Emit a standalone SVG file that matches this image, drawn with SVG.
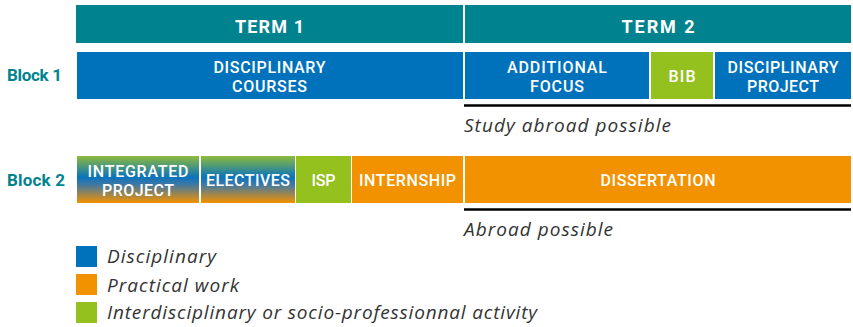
<svg xmlns="http://www.w3.org/2000/svg" width="853" height="327" viewBox="0 0 853 327">
<defs>
<linearGradient id="mix" x1="0" y1="0" x2="0" y2="1">
<stop offset="0" stop-color="#8dbb3c"/>
<stop offset="0.45" stop-color="#0a73bb"/>
<stop offset="0.6" stop-color="#3d78a6"/>
<stop offset="1" stop-color="#f39200"/>
</linearGradient>
<style>
.term{fill:#00828f}
.blue{fill:#0072bc}
.green{fill:#95c11f}
.orange{fill:#f39200}
.hd{font-family:Roboto,"Open Sans","Liberation Sans",sans-serif;font-weight:700;font-size:18px;fill:#fff;text-anchor:middle}
.nl{font-family:Roboto,"Open Sans","Liberation Sans",sans-serif;font-weight:500;font-size:16px;fill:#fff;text-anchor:middle}
.bl{font-family:Roboto,"Open Sans","Liberation Sans",sans-serif;font-weight:700;font-size:17px;fill:#00838f}
.it{font-family:"Open Sans","Liberation Sans",sans-serif;font-style:italic;font-size:19px;fill:#333}
.rule{stroke:#000;stroke-width:2.5}
</style>
</defs>
<rect width="853" height="327" fill="#fff"/>
<g id="term1"><rect class="term" x="76" y="5" width="387" height="38"/><text class="hd" x="269.5" y="33" textLength="69" lengthAdjust="spacing">TERM 1</text></g>
<g id="term2"><rect class="term" x="465" y="5" width="386" height="38"/><text class="hd" x="658" y="33" textLength="73" lengthAdjust="spacing">TERM 2</text></g>
<g id="block1-label"><text class="bl" x="7" y="81" textLength="55" lengthAdjust="spacing">Block 1</text></g>
<g id="block2-label"><text class="bl" x="7" y="186" textLength="58" lengthAdjust="spacing">Block 2</text></g>
<g id="disciplinary-courses"><rect class="blue" x="77" y="52" width="386" height="47"/><text class="nl" x="269.5" y="73" textLength="112" lengthAdjust="spacing">DISCIPLINARY</text><text class="nl" x="269.5" y="92" textLength="75" lengthAdjust="spacing">COURSES</text></g>
<g id="additional-focus"><rect class="blue" x="465" y="52" width="184" height="47"/><text class="nl" x="557" y="73" textLength="100" lengthAdjust="spacing">ADDITIONAL</text><text class="nl" x="557" y="92" textLength="54" lengthAdjust="spacing">FOCUS</text></g>
<g id="bib"><rect class="green" x="651" y="52" width="62" height="47"/><text class="nl" x="682" y="82" textLength="27" lengthAdjust="spacing">BIB</text></g>
<g id="disciplinary-project"><rect class="blue" x="715" y="52" width="136" height="47"/><text class="nl" x="783" y="73" textLength="111" lengthAdjust="spacing">DISCIPLINARY</text><text class="nl" x="783" y="92" textLength="72" lengthAdjust="spacing">PROJECT</text></g>
<line class="rule" x1="464" y1="105.5" x2="851" y2="105.5"/>
<text class="it" x="464" y="132" textLength="207" lengthAdjust="spacing">Study abroad possible</text>
<g id="integrated-project"><rect fill="url(#mix)" x="77" y="156" width="122" height="47"/><text class="nl" x="138" y="177" textLength="101" lengthAdjust="spacing">INTEGRATED</text><text class="nl" x="138" y="196" textLength="72" lengthAdjust="spacing">PROJECT</text></g>
<g id="electives"><rect fill="url(#mix)" x="201" y="156" width="94" height="47"/><text class="nl" x="248" y="186" textLength="84" lengthAdjust="spacing">ELECTIVES</text></g>
<g id="isp"><rect class="green" x="296" y="156" width="55" height="47"/><text class="nl" x="323.5" y="186" textLength="24" lengthAdjust="spacing">ISP</text></g>
<g id="internship"><rect class="orange" x="352" y="156" width="111" height="47"/><text class="nl" x="407.5" y="186" textLength="97" lengthAdjust="spacing">INTERNSHIP</text></g>
<g id="dissertation"><rect class="orange" x="465" y="156" width="386" height="47"/><text class="nl" x="658" y="186" textLength="115" lengthAdjust="spacing">DISSERTATION</text></g>
<line class="rule" x1="464" y1="209.5" x2="851" y2="209.5"/>
<text class="it" x="464" y="236" textLength="149" lengthAdjust="spacing">Abroad possible</text>
<g id="legend">
<rect class="blue" x="76" y="246" width="21" height="21"/><text class="it" x="107" y="263" textLength="109" lengthAdjust="spacing">Disciplinary</text>
<rect class="orange" x="76" y="274" width="21" height="21"/><text class="it" x="107" y="292" textLength="132" lengthAdjust="spacing">Practical work</text>
<rect class="green" x="76" y="302" width="21" height="21"/><text class="it" x="107" y="319" textLength="430" lengthAdjust="spacing">Interdisciplinary or socio-professionnal activity</text>
</g>
</svg>
